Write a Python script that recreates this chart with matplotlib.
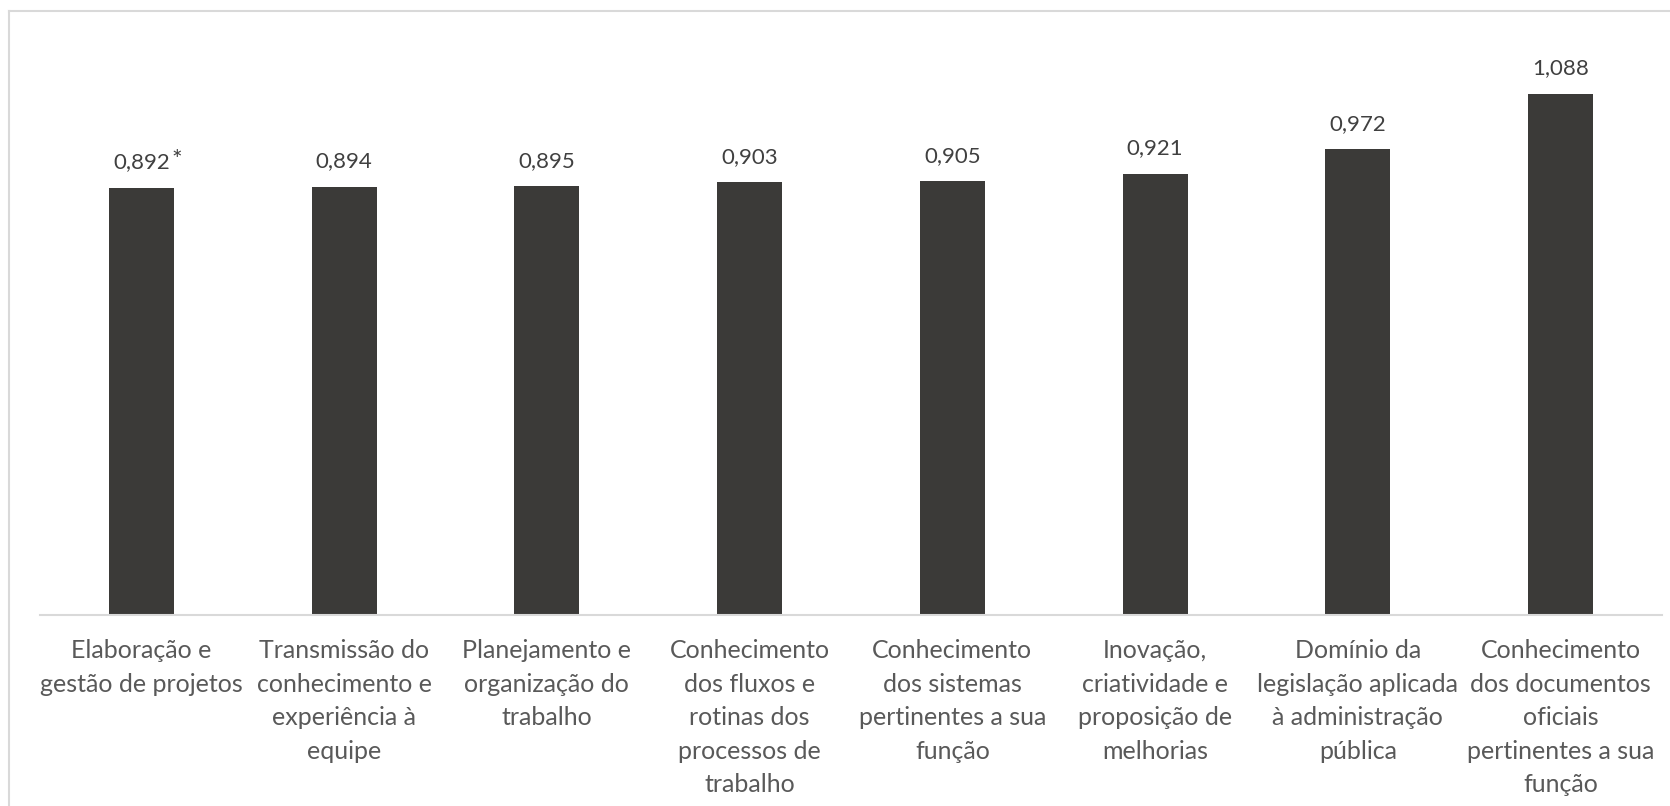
from matplotlib import pyplot as plt
from matplotlib.lines import Line2D
import numpy as np

categories = [
    'Elaboração e\ngestão de projetos',
    'Transmissão do\nconhecimento e\nexperiência à\nequipe',
    'Planejamento e\norganização do\ntrabalho',
    'Conhecimento\ndos fluxos e\nrotinas dos\nprocessos de\ntrabalho',
    'Conhecimento\ndos sistemas\npertinentes a sua\nfunção',
    'Inovação,\ncriatividade e\nproposição de\nmelhorias',
    'Domínio da\nlegislação aplicada\nà administração\npública',
    'Conhecimento\ndos documentos\noficiais\npertinentes a sua\nfunção',
]
values = [0.892, 0.894, 0.895, 0.903, 0.905, 0.921, 0.972, 1.088]
notes = ['*', '', '', '', '', '', '', '']

plt.rcParams['font.family'] = ['Lato', 'DejaVu Sans']

W, H = 1670, 806
fig = plt.figure(figsize=(W / 100, H / 100), dpi=100)
ax = fig.add_axes([40 / W, 191.5 / H, 1622 / W, 574.4 / H])

x = np.arange(len(values))
ax.bar(x, values, width=0.32, color='#3b3a38', zorder=2)
ax.set_xlim(-0.5, len(values) - 0.5)
ax.set_ylim(0, 1.2)

for xi, v, n in zip(x, values, notes):
    ax.annotate(f'{v:.3f}'.replace('.', ','), (xi, v), xytext=(0, 11),
                textcoords='offset points', ha='center', va='bottom',
                fontsize=16, color='#404040')
    if n:
        ax.annotate(n, (xi, v), xytext=(22, 11), textcoords='offset points',
                    ha='left', va='bottom', fontsize=18, color='#404040')

ax.set_xticks(x)
ax.set_xticklabels(categories, fontsize=18, color='#595959', linespacing=1.55)
ax.tick_params(axis='x', length=0, pad=18)
ax.set_yticks([])
for s in ['top', 'right', 'left']:
    ax.spines[s].set_visible(False)
ax.spines['bottom'].set_color('#d9d9d9')
ax.spines['bottom'].set_linewidth(1.5)

# chart area border (top and left visible)
fig.add_artist(Line2D([9 / W, 1], [1 - 11 / H, 1 - 11 / H], color='#d9d9d9', lw=1.5))
fig.add_artist(Line2D([9 / W, 9 / W], [0, 1 - 11 / H], color='#d9d9d9', lw=1.5))

plt.savefig('out.png', dpi=100)
